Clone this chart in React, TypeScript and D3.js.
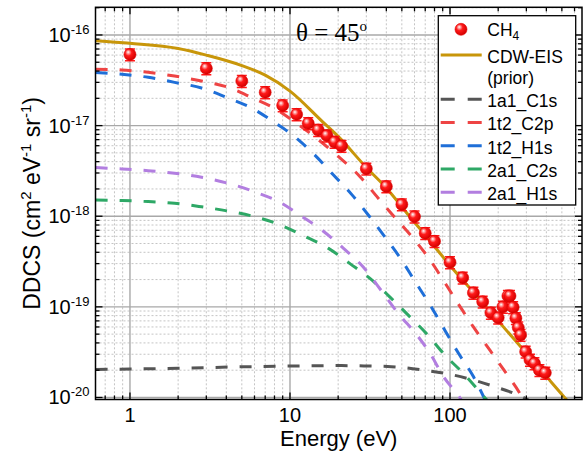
import React, { useEffect, useRef } from 'react';
import * as d3 from 'd3';

const W = 584;
const H = 454;
const margin = { top: 7.3, right: 2, bottom: 54.5, left: 95.5 };

// measured CH4 points (energy in eV, DDCS in cm2 eV-1 sr-1)
const ch4Energy = [1, 3, 5, 7, 9, 11, 13, 15, 17, 19, 21, 30, 40, 50, 60, 70, 80, 100, 120, 140, 160, 180, 200, 214, 230, 237, 248, 258, 267, 276, 297, 316, 337, 362, 394];
const ch4Ddcs = [6.1e-17, 4.28e-17, 3.1e-17, 2.33e-17, 1.67e-17, 1.33e-17, 1.06e-17, 8.93e-18, 7.76e-18, 6.6e-18, 5.96e-18, 3.35e-18, 2.13e-18, 1.35e-18, 9.9e-19, 6.5e-19, 5.3e-19, 3.1e-19, 2.1e-19, 1.43e-19, 1.14e-19, 8.6e-20, 7.6e-20, 1.0e-19, 1.32e-19, 1.32e-19, 9.9e-20, 7.5e-20, 5.9e-20, 4.9e-20, 3.2e-20, 2.6e-20, 2.38e-20, 2.0e-20, 1.87e-20];
const ch4RelErr = 0.15;

// CDW-EIS (prior) total
const cdwEnergy = [0.61, 1, 2, 3, 5, 7, 10, 16, 20, 30, 40, 56, 70, 100, 150, 200, 300, 400, 523, 668];
const cdwDdcs = [8.65e-17, 8.1e-17, 7.1e-17, 6.0e-17, 4.6e-17, 3.6e-17, 2.4e-17, 1.1e-17, 7.6e-18, 3.45e-18, 2.05e-18, 9.9e-19, 6.2e-19, 2.86e-19, 1.26e-19, 7.0e-20, 3.08e-20, 1.71e-20, 9.9e-21, 6.1e-21];

// orbital contributions
const c1sEnergy = [0.61, 1, 2, 5, 10, 20, 29, 43, 69, 94, 136, 192, 268, 330];
const c1sDdcs = [2.04e-20, 2.06e-20, 2.1e-20, 2.18e-20, 2.22e-20, 2.25e-20, 2.23e-20, 2.19e-20, 2.0e-20, 1.84e-20, 1.58e-20, 1.31e-20, 1.06e-20, 8.8e-21];

const c2pEnergy = [0.61, 0.89, 1.3, 1.9, 2.8, 4.1, 5.8, 8.0, 11, 14.3, 20.1, 27.4, 35.6, 45.2, 58.9, 75, 91, 115, 140, 178, 222, 274, 330];
const c2pDdcs = [4.18e-17, 4.11e-17, 3.87e-17, 3.52e-17, 3.1e-17, 2.65e-17, 2.03e-17, 1.55e-17, 1.06e-17, 7.5e-18, 4.54e-18, 2.73e-18, 1.58e-18, 9.7e-19, 5.7e-19, 3.3e-19, 1.95e-19, 1.02e-19, 6.0e-20, 3.3e-20, 1.9e-20, 1.1e-20, 6.0e-21];

const h1sEnergy = [0.61, 0.89, 1.3, 1.9, 2.8, 4.0, 5.8, 7.9, 10.7, 14.3, 18.7, 24.5, 31.3, 39.8, 49.8, 60, 75, 93, 113, 140, 163, 190];
const h1sDdcs = [3.86e-17, 3.68e-17, 3.41e-17, 3.0e-17, 2.6e-17, 2.05e-17, 1.55e-17, 1.1e-17, 7.55e-18, 4.73e-18, 2.85e-18, 1.71e-18, 1.0e-18, 5.7e-19, 3.29e-19, 1.95e-19, 1.05e-19, 5.5e-20, 3.07e-20, 1.7e-20, 1.0e-20, 5.5e-21];

const c2sEnergy = [0.61, 0.89, 1.3, 1.9, 2.8, 4.1, 6.0, 8.7, 12.4, 17.4, 23.7, 31.6, 42, 56, 71, 93, 124, 163, 190];
const c2sDdcs = [1.51e-18, 1.49e-18, 1.45e-18, 1.39e-18, 1.27e-18, 1.14e-18, 9.9e-19, 8.0e-19, 6.0e-19, 4.42e-19, 3.0e-19, 2.06e-19, 1.29e-19, 7.8e-20, 5.1e-20, 2.94e-20, 1.77e-20, 1.02e-20, 7.5e-21];

const h1sAEnergy = [0.61, 0.89, 1.3, 1.9, 2.8, 4.1, 6.0, 8.7, 11.7, 15.7, 21.6, 28.6, 38.3, 47.4, 62, 75, 91, 115, 130];
const h1sADdcs = [3.45e-18, 3.32e-18, 3.18e-18, 2.98e-18, 2.69e-18, 2.31e-18, 1.86e-18, 1.42e-18, 1.01e-18, 7.1e-19, 4.42e-19, 2.77e-19, 1.41e-19, 8.5e-20, 4.9e-20, 3.07e-20, 1.7e-20, 1.0e-20, 7e-21];

const xTicks = [1, 10, 100];
const yTicks = [1e-20, 1e-19, 1e-18, 1e-17, 1e-16];

const curves = [
  { name: '1a1_C1s', color: '#555555', xs: c1sEnergy, ys: c1sDdcs },
  { name: '1t2_C2p', color: '#ee4444', xs: c2pEnergy, ys: c2pDdcs },
  { name: '1t2_H1s', color: '#1f6fd8', xs: h1sEnergy, ys: h1sDdcs },
  { name: '2a1_C2s', color: '#2ea866', xs: c2sEnergy, ys: c2sDdcs },
  { name: '2a1_H1s', color: '#b27ee0', xs: h1sAEnergy, ys: h1sADdcs },
];
const goldColor = '#c8960a';

const FONT = '"Liberation Sans", Arial, sans-serif';

const App = () => {
  const svgRef = useRef<SVGSVGElement>(null);

  useEffect(() => {
    const svg = d3.select(svgRef.current);
    svg.selectAll('*').remove();

    const x0 = margin.left, x1 = W - margin.right;
    const y0 = margin.top, y1 = H - margin.bottom;
    const x = d3.scaleLog().domain([0.609, 668]).range([x0, x1]);
    const y = d3.scaleLog().domain([9.5e-21, 2.02e-16]).range([y1, y0]);

    const defs = svg.append('defs');
    defs.append('clipPath').attr('id', 'plotClip')
      .append('rect').attr('x', x0).attr('y', y0).attr('width', x1 - x0).attr('height', y1 - y0);
    const grad = defs.append('radialGradient').attr('id', 'ball')
      .attr('cx', 0.4).attr('cy', 0.4).attr('r', 0.6).attr('fx', 0.35).attr('fy', 0.3);
    grad.append('stop').attr('offset', '0%').attr('stop-color', '#ffffff');
    grad.append('stop').attr('offset', '22%').attr('stop-color', '#ff9090');
    grad.append('stop').attr('offset', '45%').attr('stop-color', '#ff1a1a');
    grad.append('stop').attr('offset', '100%').attr('stop-color', '#d40000');

    svg.append('rect').attr('width', W).attr('height', H).attr('fill', '#fff');

    // grid
    const xMinor: number[] = [];
    const yMinor: number[] = [];
    for (let d = -1; d <= 2; d++) for (let k = 2; k <= 9; k++) {
      const v = k * Math.pow(10, d);
      if (v > 0.609 && v < 668) xMinor.push(v);
    }
    for (let d = -21; d <= -16; d++) for (let k = 2; k <= 9; k++) {
      const v = k * Math.pow(10, d);
      if (v > 9.5e-21 && v < 2.02e-16) yMinor.push(v);
    }
    const grid = svg.append('g');
    grid.selectAll('.xmin').data(xMinor).enter().append('line')
      .attr('x1', d => x(d)).attr('x2', d => x(d)).attr('y1', y0).attr('y2', y1)
      .attr('stroke', '#c4c4c4').attr('stroke-width', 1).attr('stroke-dasharray', '2,2');
    grid.selectAll('.ymin').data(yMinor).enter().append('line')
      .attr('y1', d => y(d)).attr('y2', d => y(d)).attr('x1', x0).attr('x2', x1)
      .attr('stroke', '#c4c4c4').attr('stroke-width', 1).attr('stroke-dasharray', '2,2');
    grid.selectAll('.xmaj').data(xTicks).enter().append('line')
      .attr('x1', d => x(d)).attr('x2', d => x(d)).attr('y1', y0).attr('y2', y1)
      .attr('stroke', '#a8a8a8').attr('stroke-width', 1.4);
    grid.selectAll('.ymaj').data(yTicks).enter().append('line')
      .attr('y1', d => y(d)).attr('y2', d => y(d)).attr('x1', x0).attr('x2', x1)
      .attr('stroke', '#a8a8a8').attr('stroke-width', 1.4);

    // curves
    const plot = svg.append('g').attr('clip-path', 'url(#plotClip)');
    const line = d3.line<[number, number]>().x(d => x(d[0])).y(d => y(d[1])).curve(d3.curveMonotoneX);
    curves.forEach(c => {
      plot.append('path')
        .attr('d', line(c.xs.map((e, i) => [e, c.ys[i]] as [number, number])))
        .attr('fill', 'none').attr('stroke', c.color).attr('stroke-width', 3)
        .attr('stroke-dasharray', '12,12');
    });
    plot.append('path')
      .attr('d', line(cdwEnergy.map((e, i) => [e, cdwDdcs[i]] as [number, number])))
      .attr('fill', 'none').attr('stroke', goldColor).attr('stroke-width', 3);

    // CH4 points with error bars
    const pts = ch4Energy.map((e, i) => ({ e, v: ch4Ddcs[i] }));
    const eb = plot.append('g').attr('stroke', '#ff1a1a').attr('stroke-width', 1.5);
    pts.forEach(p => {
      const lo = y(p.v * (1 - ch4RelErr)), hi = y(p.v * (1 + ch4RelErr)), cx = x(p.e);
      eb.append('line').attr('x1', cx).attr('x2', cx).attr('y1', lo).attr('y2', hi);
      eb.append('line').attr('x1', cx - 5).attr('x2', cx + 5).attr('y1', lo).attr('y2', lo);
      eb.append('line').attr('x1', cx - 5).attr('x2', cx + 5).attr('y1', hi).attr('y2', hi);
    });
    plot.selectAll('.pt').data(pts).enter().append('circle')
      .attr('cx', d => x(d.e)).attr('cy', d => y(d.v)).attr('r', 6)
      .attr('fill', 'url(#ball)').attr('stroke', '#e00000').attr('stroke-width', 0.6);

    // frame and inward ticks
    const axes = svg.append('g').attr('stroke', '#000');
    const tickX = (v: number, len: number) => {
      axes.append('line').attr('x1', x(v)).attr('x2', x(v)).attr('y1', y1).attr('y2', y1 - len).attr('stroke-width', 1.3);
      axes.append('line').attr('x1', x(v)).attr('x2', x(v)).attr('y1', y0).attr('y2', y0 + len).attr('stroke-width', 1.3);
    };
    const tickY = (v: number, len: number) => {
      axes.append('line').attr('y1', y(v)).attr('y2', y(v)).attr('x1', x0).attr('x2', x0 + len).attr('stroke-width', 1.3);
      axes.append('line').attr('y1', y(v)).attr('y2', y(v)).attr('x1', x1).attr('x2', x1 - len).attr('stroke-width', 1.3);
    };
    xMinor.forEach(v => tickX(v, 4));
    xTicks.forEach(v => tickX(v, 7));
    yMinor.forEach(v => tickY(v, 4));
    yTicks.forEach(v => tickY(v, 7));
    svg.append('rect').attr('x', x0).attr('y', y0).attr('width', x1 - x0).attr('height', y1 - y0)
      .attr('fill', 'none').attr('stroke', '#000').attr('stroke-width', 1.5);

    // tick labels
    svg.selectAll('.xl').data(xTicks).enter().append('text')
      .attr('x', d => x(d)).attr('y', 422).attr('text-anchor', 'middle')
      .attr('font-family', FONT).attr('font-size', 20).text(d => String(d));
    const yl = svg.selectAll('.yl').data(yTicks).enter().append('text')
      .attr('x', x0 - 6).attr('y', d => y(d) + 7).attr('text-anchor', 'end')
      .attr('font-family', FONT).attr('font-size', 20);
    yl.append('tspan').text('10');
    yl.append('tspan').attr('dy', -8).attr('font-size', 13).text(d => String(Math.round(Math.log10(d))));

    // axis titles
    svg.append('text').attr('x', (x0 + x1) / 2).attr('y', 445.5).attr('text-anchor', 'middle')
      .attr('font-family', FONT).attr('font-size', 22).text('Energy (eV)');
    const yt = svg.append('text').attr('transform', `translate(39.5,${(y0 + y1) / 2}) rotate(-90)`)
      .attr('text-anchor', 'middle').attr('font-family', FONT).attr('font-size', 23);
    yt.append('tspan').text('DDCS (cm');
    yt.append('tspan').attr('dy', -9).attr('font-size', 15).text('2');
    yt.append('tspan').attr('dy', 9).text(' eV');
    yt.append('tspan').attr('dy', -9).attr('font-size', 15).text('-1');
    yt.append('tspan').attr('dy', 9).text(' sr');
    yt.append('tspan').attr('dy', -9).attr('font-size', 15).text('-1');
    yt.append('tspan').attr('dy', 9).text(')');

    // theta annotation
    const th = svg.append('text').attr('x', 296).attr('y', 40.7)
      .attr('font-family', '"Liberation Serif", "Times New Roman", serif').attr('font-size', 25);
    th.append('tspan').text('\u03b8 = 45');
    th.append('tspan').attr('dy', -10).attr('font-size', 15).text('o');

    // legend
    const lg = svg.append('g');
    lg.append('rect').attr('x', 438.3).attr('y', 15.7).attr('width', 137.4).attr('height', 189.3)
      .attr('fill', '#fff').attr('stroke', '#000').attr('stroke-width', 1.3);
    const lx0 = 440.7, lx1 = 481.7, tx = 487.3;
    lg.append('circle').attr('cx', 461).attr('cy', 29.3).attr('r', 6)
      .attr('fill', 'url(#ball)').attr('stroke', '#e00000').attr('stroke-width', 0.6);
    const ch = lg.append('text').attr('x', tx).attr('y', 35.5).attr('font-family', FONT).attr('font-size', 17.5);
    ch.append('tspan').text('CH');
    ch.append('tspan').attr('dy', 4).attr('font-size', 12).text('4');
    lg.append('line').attr('x1', lx0).attr('x2', lx1).attr('y1', 55).attr('y2', 55)
      .attr('stroke', goldColor).attr('stroke-width', 3);
    lg.append('text').attr('x', tx).attr('y', 62.5).attr('font-family', FONT).attr('font-size', 17.5).text('CDW-EIS');
    lg.append('text').attr('x', tx).attr('y', 84).attr('font-family', FONT).attr('font-size', 17.5).text('(prior)');
    curves.forEach((c, i) => {
      const ly = 99.3 + i * 23.25;
      lg.append('line').attr('x1', lx0).attr('x2', lx1).attr('y1', ly).attr('y2', ly)
        .attr('stroke', c.color).attr('stroke-width', 3).attr('stroke-dasharray', '14,13');
      lg.append('text').attr('x', tx).attr('y', ly + 7.8).attr('font-family', FONT).attr('font-size', 17.5).text(c.name);
    });
  }, []);

  return (
    <svg ref={svgRef} width={W} height={H} style={{ position: 'absolute', left: 0, top: 0 }} />
  );
};

export default App;
